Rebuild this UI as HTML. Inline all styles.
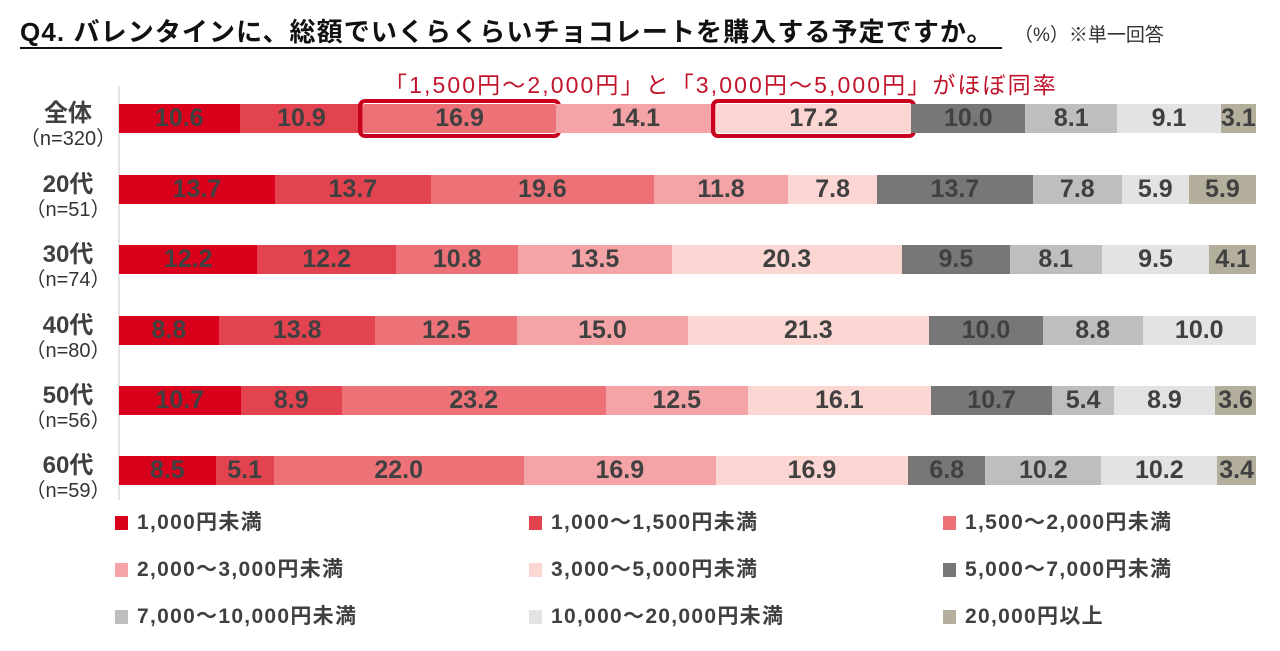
<!DOCTYPE html>
<html><head><meta charset="utf-8"><style>
body{margin:0;width:1280px;height:651px;background:#fff;position:relative;overflow:hidden;font-family:"Liberation Sans","Noto Sans CJK JP",sans-serif;color:#404040}
.title{position:absolute;left:20px;top:12px;font-size:26px;font-weight:bold;color:#111;white-space:nowrap;letter-spacing:1.1px}
.title span{border-bottom:2px solid #111;padding-right:8px}
.note{position:absolute;left:1014px;top:20px;font-size:19px;color:#333;white-space:nowrap}
.ann{position:absolute;left:384px;top:66px;font-size:23px;color:#c0142c;white-space:nowrap;letter-spacing:2.1px}
.axis{position:absolute;left:118px;top:86px;width:2px;height:414px;background:#e4e4e4}
.row{position:absolute;left:119px;width:1137px;height:29px;display:flex}
.row div{height:100%;display:flex;align-items:center;justify-content:center;font-size:25px;font-weight:bold;color:#404040;white-space:nowrap;overflow:visible;box-sizing:border-box}
.hl{outline:4px solid #c8001e;outline-offset:1px;border-radius:2px}
.lab{position:absolute;left:18px;width:100px;text-align:center;line-height:1}
.lab b{display:block;font-size:24px;color:#404040}
.lab i{display:block;font-style:normal;font-size:20px;margin-top:3px;color:#333}
.lg{position:absolute;font-size:21px;font-weight:bold;color:#404040;white-space:nowrap;line-height:22px;letter-spacing:1.3px}
.lg s{display:inline-block;width:13px;height:14px;margin-right:9px;vertical-align:-1px}
.a{background:#d9001b}.b{background:#e3434f}.c{background:#ec7278}.d{background:#f4a4a6}.e{background:#fcd6d2}.f{background:#777}.g{background:#bebebe}.h{background:#e3e3e3}.k{background:#b4ae9c}
</style></head><body>
<div class="title"><span>Q4. バレンタインに、総額でいくらくらいチョコレートを購入する予定ですか。</span></div>
<div class="note">（%）※単一回答</div>
<div class="ann">「1,500円～2,000円」と「3,000円～5,000円」がほぼ同率</div>
<div class="axis"></div>

<div class="lab" style="top:102px"><b>全体</b><i>（n=320）</i></div>
<div class="row" style="top:104px"><div class="a" style="flex:10.6">10.6</div><div class="b" style="flex:10.9">10.9</div><div class="c hl" style="flex:16.9">16.9</div><div class="d" style="flex:14.1">14.1</div><div class="e hl" style="flex:17.2">17.2</div><div class="f" style="flex:10.0">10.0</div><div class="g" style="flex:8.1">8.1</div><div class="h" style="flex:9.1">9.1</div><div class="k" style="flex:3.1">3.1</div></div>

<div class="lab" style="top:173px"><b>20代</b><i>（n=51）</i></div>
<div class="row" style="top:175px"><div class="a" style="flex:13.7">13.7</div><div class="b" style="flex:13.7">13.7</div><div class="c" style="flex:19.6">19.6</div><div class="d" style="flex:11.8">11.8</div><div class="e" style="flex:7.8">7.8</div><div class="f" style="flex:13.7">13.7</div><div class="g" style="flex:7.8">7.8</div><div class="h" style="flex:5.9">5.9</div><div class="k" style="flex:5.9">5.9</div></div>

<div class="lab" style="top:243px"><b>30代</b><i>（n=74）</i></div>
<div class="row" style="top:245px"><div class="a" style="flex:12.2">12.2</div><div class="b" style="flex:12.2">12.2</div><div class="c" style="flex:10.8">10.8</div><div class="d" style="flex:13.5">13.5</div><div class="e" style="flex:20.3">20.3</div><div class="f" style="flex:9.5">9.5</div><div class="g" style="flex:8.1">8.1</div><div class="h" style="flex:9.5">9.5</div><div class="k" style="flex:4.1">4.1</div></div>

<div class="lab" style="top:314px"><b>40代</b><i>（n=80）</i></div>
<div class="row" style="top:316px"><div class="a" style="flex:8.8">8.8</div><div class="b" style="flex:13.8">13.8</div><div class="c" style="flex:12.5">12.5</div><div class="d" style="flex:15.0">15.0</div><div class="e" style="flex:21.3">21.3</div><div class="f" style="flex:10.0">10.0</div><div class="g" style="flex:8.8">8.8</div><div class="h" style="flex:10.0">10.0</div></div>

<div class="lab" style="top:384px"><b>50代</b><i>（n=56）</i></div>
<div class="row" style="top:386px"><div class="a" style="flex:10.7">10.7</div><div class="b" style="flex:8.9">8.9</div><div class="c" style="flex:23.2">23.2</div><div class="d" style="flex:12.5">12.5</div><div class="e" style="flex:16.1">16.1</div><div class="f" style="flex:10.7">10.7</div><div class="g" style="flex:5.4">5.4</div><div class="h" style="flex:8.9">8.9</div><div class="k" style="flex:3.6">3.6</div></div>

<div class="lab" style="top:454px"><b>60代</b><i>（n=59）</i></div>
<div class="row" style="top:456px"><div class="a" style="flex:8.5">8.5</div><div class="b" style="flex:5.1">5.1</div><div class="c" style="flex:22.0">22.0</div><div class="d" style="flex:16.9">16.9</div><div class="e" style="flex:16.9">16.9</div><div class="f" style="flex:6.8">6.8</div><div class="g" style="flex:10.2">10.2</div><div class="h" style="flex:10.2">10.2</div><div class="k" style="flex:3.4">3.4</div></div>

<div class="lg" style="left:115px;top:512px"><s class="a"></s>1,000円未満</div>
<div class="lg" style="left:529px;top:512px"><s class="b"></s>1,000～1,500円未満</div>
<div class="lg" style="left:943px;top:512px"><s class="c"></s>1,500～2,000円未満</div>
<div class="lg" style="left:115px;top:559px"><s class="d"></s>2,000～3,000円未満</div>
<div class="lg" style="left:529px;top:559px"><s class="e"></s>3,000～5,000円未満</div>
<div class="lg" style="left:943px;top:559px"><s class="f"></s>5,000～7,000円未満</div>
<div class="lg" style="left:115px;top:606px"><s class="g"></s>7,000～10,000円未満</div>
<div class="lg" style="left:529px;top:606px"><s class="h"></s>10,000～20,000円未満</div>
<div class="lg" style="left:943px;top:606px"><s class="k"></s>20,000円以上</div>
</body></html>
